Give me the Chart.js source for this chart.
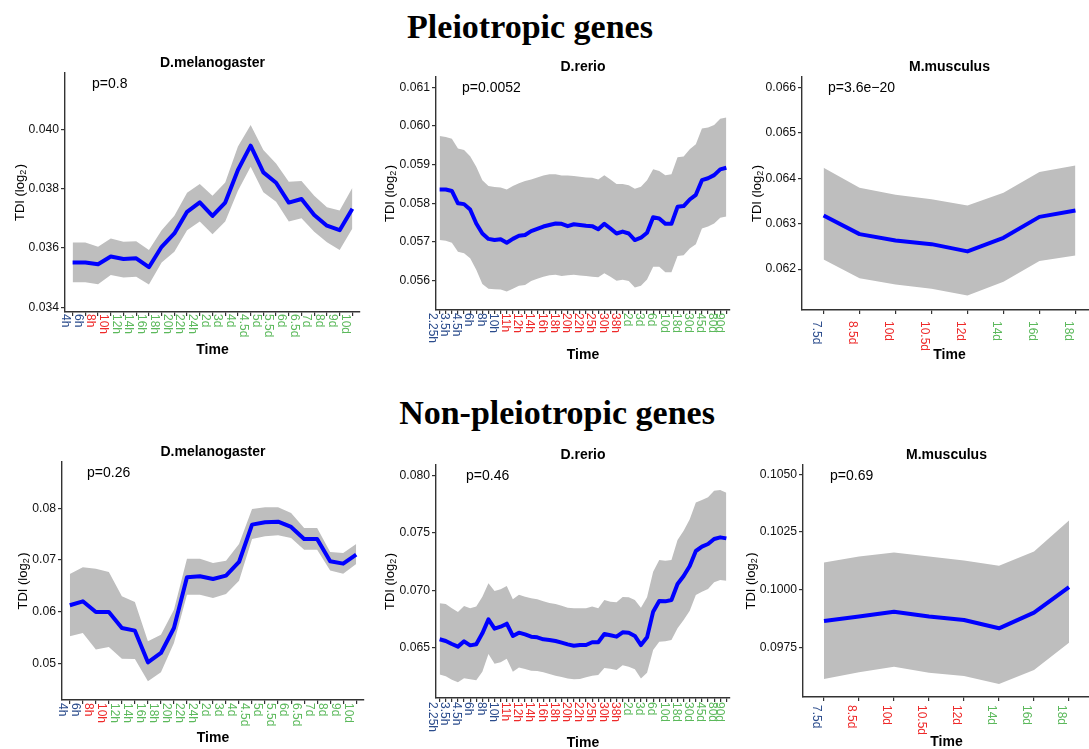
<!DOCTYPE html>
<html>
<head>
<meta charset="utf-8">
<script src="https://cdn.jsdelivr.net/npm/chart.js@4"></script>
<style>
  html, body { margin: 0; padding: 0; background: #fff; }
  body { width: 1089px; height: 749px; overflow: hidden; position: relative; }
  canvas { position: absolute; }
  .head { position: absolute; font: bold 34px "Liberation Serif", "Times New Roman", serif;
          white-space: nowrap; transform: translate(-50%, -50%); color: #000; }
</style>
</head>
<body>
<div class="head" style="left:530px;top:27px">Pleiotropic genes</div>
<div class="head" style="left:557px;top:413px">Non-pleiotropic genes</div>
<script>
// time points and stage groups (0 = early, 1 = mid, 2 = late)
const melTimes = ['4h','6h','8h','10h','12h','14h','16h','18h','20h','22h','24h','2d','3d','4d','4.5d','5d','5.5d','6d','6.5d','7d','8d','9d','10d'];
const melStages = [0,0,1,1,2,2,2,2,2,2,2,2,2,2,2,2,2,2,2,2,2,2,2];

const rerioTimes = ['2.25h','','3.5h','','4.5h','','6h','','8h','','10h','','11h','','12h','','14h','','16h','','18h','','20h','',
  '22h','','25h','','30h','','38h','','2d','','3d','','6d','','10d','','18d','','30d','','45d','','80d','90d'];
const rerioStages = [0,0,0,0,0,0,0,0,0,0,0,1,1,1,1,1,1,1,1,1,1,1,1,1,1,1,1,1,1,1,1,1,2,2,2,2,2,2,2,2,2,2,2,2,2,2,2,2];

const musTimes = ['7.5d','8.5d','10d','10.5d','12d','14d','16d','18d'];
const musStages = [0,1,1,1,1,2,2,2];

// pleiotropic genes: mean TDI with lower / upper band
const melPleioMean = [0.03551,0.03551,0.03545,0.03571,0.03563,0.03565,0.03535,0.03604,0.03649,0.03722,0.03754,0.03708,0.03753,0.03863,0.03945,0.03855,0.0382,0.03753,0.03765,0.03711,0.03675,0.0366,0.03732];
const melPleioUpper = [0.03618,0.03618,0.03604,0.03632,0.03621,0.03623,0.03593,0.0366,0.03709,0.03786,0.03816,0.03776,0.03821,0.03942,0.04015,0.0393,0.03885,0.03823,0.03826,0.03776,0.03737,0.03726,0.03803];
const melPleioLower = [0.03484,0.03484,0.03478,0.03509,0.035,0.03503,0.03477,0.03551,0.03587,0.0366,0.03689,0.03646,0.03689,0.03793,0.03874,0.03788,0.03756,0.03689,0.037,0.03655,0.03619,0.03593,0.03666];

const rerioPleioMean = [0.05836,0.05836,0.05832,0.058,0.05798,0.05784,0.05748,0.05722,0.05708,0.05705,0.05707,0.05698,0.05708,0.05716,0.05718,0.05728,0.05734,0.0574,0.05744,0.05748,0.05747,0.05741,0.05746,0.05744,
  0.05742,0.05741,0.05733,0.05747,0.05735,0.05722,0.05727,0.05722,0.05705,0.05711,0.05724,0.05764,0.05761,0.05747,0.05747,0.05791,0.05793,0.0581,0.05822,0.0586,0.05865,0.05873,0.05888,0.05892];
const rerioPleioUpper = [0.05974,0.05972,0.05967,0.05942,0.05938,0.05922,0.05895,0.0586,0.05845,0.05842,0.05841,0.05836,0.05845,0.05852,0.05858,0.05862,0.05867,0.05872,0.05875,0.05875,0.05872,0.05872,0.05871,0.05869,
  0.05867,0.05866,0.05862,0.05873,0.05862,0.0585,0.0585,0.05847,0.05838,0.05843,0.0586,0.05888,0.05884,0.05873,0.05875,0.05919,0.05921,0.0594,0.05953,0.05994,0.05996,0.06003,0.06019,0.06022];
const rerioPleioLower = [0.05705,0.05703,0.05698,0.05675,0.05671,0.05658,0.05628,0.05591,0.05579,0.05578,0.05577,0.05572,0.05579,0.05587,0.05589,0.05599,0.05605,0.0561,0.05614,0.05615,0.05612,0.05614,0.05615,0.05613,
  0.05612,0.0561,0.05609,0.05619,0.0561,0.056,0.05602,0.05599,0.05582,0.05587,0.05603,0.05636,0.05636,0.05622,0.05622,0.05664,0.05666,0.05683,0.05694,0.05735,0.0574,0.05748,0.05763,0.05766];

const musPleioMean = [0.06318,0.06277,0.06263,0.06255,0.06239,0.06269,0.06315,0.06329];
const musPleioUpper = [0.06423,0.06379,0.06364,0.06354,0.0634,0.06368,0.06414,0.06428];
const musPleioLower = [0.06221,0.0618,0.06166,0.06157,0.06142,0.06172,0.06218,0.0623];

// non-pleiotropic genes
const melNonMean = [0.06123,0.062,0.05994,0.05994,0.05684,0.05632,0.05019,0.052,0.05684,0.06665,0.06684,0.06632,0.06697,0.06961,0.07684,0.07729,0.07742,0.07639,0.07406,0.07406,0.06974,0.06929,0.07103];
const melNonUpper = [0.06729,0.06858,0.06832,0.06768,0.06297,0.06187,0.05426,0.05555,0.06039,0.07026,0.07026,0.06942,0.06987,0.0731,0.07987,0.08019,0.08019,0.0791,0.07619,0.07619,0.07155,0.07135,0.0731];
const melNonLower = [0.05523,0.05587,0.05265,0.05316,0.0509,0.05084,0.04652,0.04826,0.05394,0.06329,0.06329,0.06265,0.06342,0.066,0.07406,0.07458,0.07477,0.07426,0.072,0.072,0.06794,0.06735,0.06923];

const rerioNonMean = [0.06573,0.06558,0.06532,0.06509,0.06555,0.0652,0.06529,0.06625,0.06747,0.06666,0.06683,0.06709,0.06602,0.06631,0.06616,0.06596,0.0659,0.06573,0.06567,0.06558,0.06544,0.06529,0.06517,0.06523,
  0.06523,0.06547,0.06547,0.06619,0.06608,0.06596,0.06634,0.06631,0.06602,0.06523,0.0659,0.06814,0.06907,0.06904,0.06916,0.07055,0.07125,0.07212,0.07343,0.07381,0.07404,0.07448,0.07462,0.07453];
const rerioNonUpper = [0.06887,0.06881,0.06843,0.06811,0.06863,0.06843,0.06858,0.06945,0.07061,0.06994,0.07009,0.07038,0.06922,0.06962,0.06945,0.0693,0.06922,0.06904,0.0689,0.06881,0.06866,0.06849,0.06843,0.06843,
  0.06843,0.06858,0.06843,0.06916,0.06901,0.06895,0.06942,0.06939,0.06916,0.06849,0.06939,0.07163,0.07265,0.07259,0.07265,0.07439,0.0752,0.07619,0.07765,0.07788,0.07811,0.07869,0.07875,0.07852];
const rerioNonLower = [0.06267,0.0625,0.06221,0.06198,0.06233,0.06224,0.06215,0.06291,0.06445,0.0636,0.06372,0.06404,0.06291,0.06328,0.06314,0.06299,0.06297,0.06285,0.0627,0.06256,0.06244,0.0623,0.06224,0.06227,
  0.06241,0.06256,0.06262,0.06323,0.06317,0.06305,0.06346,0.06334,0.06311,0.0623,0.06282,0.0648,0.06552,0.06555,0.06567,0.06669,0.06741,0.06823,0.06959,0.06988,0.07012,0.0707,0.0709,0.07084];

const musNonMean = [0.09866,0.09885,0.09906,0.09885,0.0987,0.09834,0.09902,0.10012];
const musNonUpper = [0.10118,0.10144,0.10162,0.10144,0.10127,0.10104,0.10166,0.103];
const musNonLower = [0.09615,0.09644,0.09668,0.09642,0.09628,0.09593,0.09654,0.09772];

// y axis ticks and visible ranges
const melPleioTicks = [0.034, 0.036, 0.038, 0.040];
const rerioPleioTicks = [0.056, 0.057, 0.058, 0.059, 0.060, 0.061];
const musPleioTicks = [0.062, 0.063, 0.064, 0.065, 0.066];
const melNonTicks = [0.05, 0.06, 0.07, 0.08];
const rerioNonTicks = [0.065, 0.070, 0.075, 0.080];
const musNonTicks = [0.0975, 0.1000, 0.1025, 0.1050];

const pValues = ['p=0.8', 'p=0.0052', 'p=3.6e\u221220', 'p=0.26', 'p=0.46', 'p=0.69'];

const FONT = '"Liberation Sans", Arial, Helvetica, sans-serif';
const stageColors = ['#2b4c8c', '#ee2a2a', '#5cb95c'];
const Y_AXIS_W = 44;
Chart.defaults.font.family = FONT;

// box = canvas [left, top, width, height]; plot = panel area [left, top, right, bottom]
const panels = [
  { title: 'D.melanogaster', p: pValues[0], times: melTimes, stages: melStages,
    mean: melPleioMean, upper: melPleioUpper, lower: melPleioLower,
    ticks: melPleioTicks, min: 0.03384, max: 0.0419, dec: 3,
    box: [0, 50, 370, 315], plot: [65, 73, 360, 312], pdx: 27, ytx: -46, lab: 2, timeGap: 38 },
  { title: 'D.rerio', p: pValues[1], times: rerioTimes, stages: rerioStages,
    mean: rerioPleioMean, upper: rerioPleioUpper, lower: rerioPleioLower,
    ticks: rerioPleioTicks, min: 0.05524, max: 0.06127, dec: 3,
    box: [370, 50, 370, 315], plot: [436, 77, 730, 310], pdx: 26, ytx: -47, lab: 3, timeGap: 45 },
  { title: 'M.musculus', p: pValues[2], times: musTimes, stages: musStages,
    mean: musPleioMean, upper: musPleioUpper, lower: musPleioLower,
    ticks: musPleioTicks, min: 0.0611, max: 0.06623, dec: 3,
    box: [740, 50, 360, 315], plot: [802, 77, 1097, 310], pdx: 26, ytx: -46, lab: 11, timeGap: 45 },
  { title: 'D.melanogaster', p: pValues[3], times: melTimes, stages: melStages,
    mean: melNonMean, upper: melNonUpper, lower: melNonLower,
    ticks: melNonTicks, min: 0.0429, max: 0.08896, dec: 2,
    box: [0, 438, 370, 320], plot: [62, 462, 364, 700], pdx: 25, ytx: -40, lab: 3, timeGap: 38 },
  { title: 'D.rerio', p: pValues[4], times: rerioTimes, stages: rerioStages,
    mean: rerioNonMean, upper: rerioNonUpper, lower: rerioNonLower,
    ticks: rerioNonTicks, min: 0.06061, max: 0.08093, dec: 3,
    box: [370, 438, 370, 320], plot: [436, 465, 730, 698], pdx: 30, ytx: -47, lab: 4, timeGap: 45 },
  { title: 'M.musculus', p: pValues[5], times: musTimes, stages: musStages,
    mean: musNonMean, upper: musNonUpper, lower: musNonLower,
    ticks: musNonTicks, min: 0.09537, max: 0.1054, dec: 4,
    box: [740, 438, 360, 320], plot: [803, 465, 1090, 697], pdx: 27, ytx: -53, lab: 8, timeGap: 45 },
];

// panel title, p-value, axis titles and the rotated time labels
function panelText(pn) {
  return {
    id: 'panelText',
    afterDraw(chart) {
      const { ctx, chartArea: a } = chart;
      const x = chart.scales.x;
      const cx = (a.left + a.right) / 2;
      ctx.save();
      ctx.fillStyle = '#000';
      ctx.textAlign = 'center';
      ctx.textBaseline = 'middle';
      ctx.font = 'bold 14px ' + FONT;
      ctx.fillText(pn.title, cx, a.top - 10);
      ctx.fillText('Time', cx, a.bottom + pn.timeGap);

      ctx.font = '14px ' + FONT;
      ctx.textAlign = 'left';
      ctx.fillText(pn.p, a.left + pn.pdx, a.top + 11.5);

      // TDI (log2), read bottom to top
      ctx.save();
      ctx.translate(a.left + pn.ytx, (a.top + a.bottom) / 2);
      ctx.rotate(-Math.PI / 2);
      ctx.textBaseline = 'alphabetic';
      const main = '13px ' + FONT, sub = '9px ' + FONT;
      ctx.font = main;
      const w1 = ctx.measureText('TDI (log').width, w3 = ctx.measureText(')').width;
      ctx.font = sub;
      const w2 = ctx.measureText('2').width;
      let tx = -(w1 + w2 + w3 + 1.5) / 2;
      ctx.font = main; ctx.fillText('TDI (log', tx, 4.5); tx += w1;
      ctx.font = sub; ctx.fillText('2', tx, 7); tx += w2 + 1.5;
      ctx.font = main; ctx.fillText(')', tx, 4.5);
      ctx.restore();

      // time labels, read top to bottom
      ctx.font = '12px ' + FONT;
      ctx.textBaseline = 'middle';
      pn.times.forEach((t, i) => {
        if (!t) return;
        ctx.save();
        ctx.translate(x.getPixelForValue(i) - 7.5, a.bottom + pn.lab);
        ctx.rotate(Math.PI / 2);
        ctx.fillStyle = stageColors[pn.stages[i]];
        ctx.fillText(t, 0, 0);
        ctx.restore();
      });
      ctx.restore();
    }
  };
}

const axisLine = { color: '#333', width: 1.4 };
const tickMarks = { drawOnChartArea: false, tickLength: 4, color: '#333', lineWidth: 1.2 };

panels.forEach((pn) => {
  const c = document.createElement('canvas');
  c.width = pn.box[2];
  c.height = pn.box[3];
  c.style.left = pn.box[0] + 'px';
  c.style.top = pn.box[1] + 'px';
  document.body.appendChild(c);

  const n = pn.times.length;
  const pts = (arr) => arr.map((v, i) => ({ x: i, y: v }));

  new Chart(c, {
    type: 'line',
    data: {
      datasets: [
        { data: pts(pn.mean), borderColor: '#0000ff', borderWidth: 4, pointRadius: 0,
          fill: false, borderJoinStyle: 'round', tension: 0 },
        { data: pts(pn.upper), borderWidth: 0, pointRadius: 0, backgroundColor: '#bebebe', fill: '+1' },
        { data: pts(pn.lower), borderWidth: 0, pointRadius: 0, fill: false },
      ],
    },
    options: {
      responsive: false,
      animation: false,
      devicePixelRatio: 1,
      events: [],
      layout: {
        padding: {
          left: pn.plot[0] - pn.box[0] - Y_AXIS_W,
          top: pn.plot[1] - pn.box[1],
          right: pn.box[0] + pn.box[2] - pn.plot[2],
          bottom: pn.box[1] + pn.box[3] - pn.plot[3],
        },
      },
      plugins: { legend: { display: false }, tooltip: { enabled: false } },
      scales: {
        x: {
          type: 'linear', min: -0.6, max: n - 0.4,
          afterBuildTicks: (s) => { s.ticks = pn.times.map((_, i) => ({ value: i })); },
          afterFit: (s) => { s.height = 0; },
          ticks: { display: false },
          grid: tickMarks, border: axisLine,
        },
        y: {
          min: pn.min, max: pn.max,
          afterBuildTicks: (s) => { s.ticks = pn.ticks.map((v) => ({ value: v })); },
          afterFit: (s) => { s.width = Y_AXIS_W; },
          ticks: { callback: (v) => v.toFixed(pn.dec), font: { size: 12.2 }, color: '#111', padding: 2 },
          grid: tickMarks, border: axisLine,
        },
      },
    },
    plugins: [panelText(pn)],
  });
});
</script>
</body>
</html>
